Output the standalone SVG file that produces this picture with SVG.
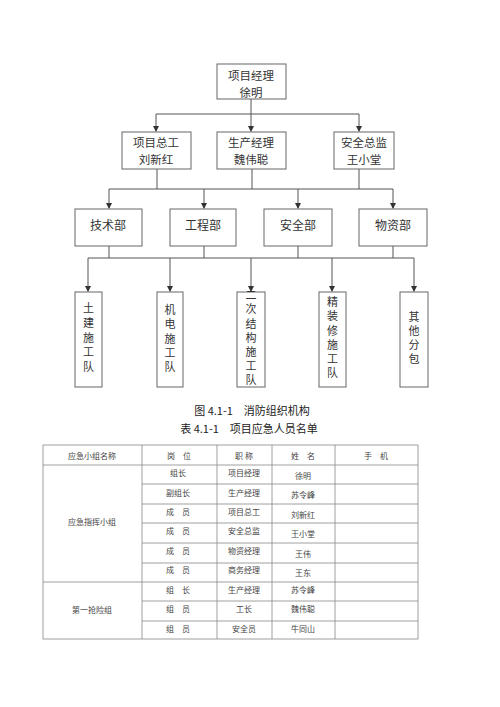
<svg xmlns="http://www.w3.org/2000/svg" width="500" height="707" viewBox="0 0 500 707">
<style>
.box{fill:#fff;stroke:#666;stroke-width:1}
.ln{fill:none;stroke:#555;stroke-width:1}
.t{font-family:"Noto Sans CJK SC","Liberation Serif",serif;fill:#333;text-anchor:middle;dominant-baseline:central;font-weight:400}
.o{font-size:12px}
.o2{font-size:11.5px}
.v{font-family:"Noto Sans CJK SC",sans-serif;fill:#333;font-size:11px;writing-mode:vertical-rl;text-orientation:upright;text-anchor:start}
.c{font-size:11px;fill:#222}
.tb{font-size:8px;fill:#444}
.grid{stroke:#888;stroke-width:0.8;fill:none}
</style>
<rect width="500" height="707" fill="#fff"/>
<g id="connectors">
<path class="ln" d="M251,99 V114"/>
<path class="ln" d="M156,114 H359"/>
<path class="ln" d="M156,114 V131"/>
<path class="ln" d="M251,114 V131"/>
<path class="ln" d="M359,114 V131"/>
<path class="ln" d="M157,169 V189 M252,169 V189 M359,169 V189"/>
<path class="ln" d="M109,189 H393"/>
<path class="ln" d="M109,189 V208 M204,189 V208 M298,189 V208 M393,189 V208"/>
<path class="ln" d="M109,246 V258 M204,246 V258 M298,246 V258 M393,246 V258"/>
<path class="ln" d="M88,258 H414"/>
<path class="ln" d="M88,258 V291 M170,258 V291 M251,258 V291 M332,258 V291 M414,258 V291"/>
<g fill="#333">
<path d="M153,126 L159,126 L156,132 Z"/>
<path d="M248,126 L254,126 L251,132 Z"/>
<path d="M356,126 L362,126 L359,132 Z"/>
<path d="M106,203 L112,203 L109,209 Z"/>
<path d="M201,203 L207,203 L204,209 Z"/>
<path d="M295,203 L301,203 L298,209 Z"/>
<path d="M390,203 L396,203 L393,209 Z"/>
<path d="M85,286 L91,286 L88,292 Z"/>
<path d="M167,286 L173,286 L170,292 Z"/>
<path d="M248,286 L254,286 L251,292 Z"/>
<path d="M329,286 L335,286 L332,292 Z"/>
<path d="M411,286 L417,286 L414,292 Z"/>
</g>
</g>
<g id="pm">
<rect class="box" x="217" y="64" width="69" height="35"/>
<text class="t o2" x="251" y="75">项目经理</text>
<text class="t o2" x="251" y="91.8">徐明</text>
</g>
<g id="chief-eng">
<rect class="box" x="122" y="132" width="69" height="37"/>
<text class="t o2" x="156" y="142.3">项目总工</text>
<text class="t o2" x="156" y="159.1">刘新红</text>
</g>
<g id="prod-mgr">
<rect class="box" x="217" y="132" width="69" height="37"/>
<text class="t o2" x="251" y="142.3">生产经理</text>
<text class="t o2" x="251" y="159.1">魏伟聪</text>
</g>
<g id="safety-dir">
<rect class="box" x="334" y="132" width="60" height="37"/>
<text class="t o2" x="364" y="142.3">安全总监</text>
<text class="t o2" x="364" y="159.1">王小堂</text>
</g>
<g id="tech">
<rect class="box" x="75" y="209" width="67" height="37"/>
<text class="t o" x="108" y="224">技术部</text>
</g>
<g id="eng">
<rect class="box" x="170" y="209" width="66" height="37"/>
<text class="t o" x="203" y="224">工程部</text>
</g>
<g id="safety">
<rect class="box" x="264" y="209" width="68" height="37"/>
<text class="t o" x="298" y="224">安全部</text>
</g>
<g id="material">
<rect class="box" x="359" y="209" width="68" height="37"/>
<text class="t o" x="393" y="224">物资部</text>
</g>
<g id="team1">
<rect class="box" x="75" y="292" width="27" height="95"/>
<text class="v" x="88.5" y="302.5" letter-spacing="3.7">土建施工队</text>
</g>
<g id="team2">
<rect class="box" x="157" y="292" width="26" height="95"/>
<text class="v" x="170" y="304.5" letter-spacing="3.2">机电施工队</text>
</g>
<g id="team3">
<rect class="box" x="237" y="292" width="28" height="95"/>
<text class="v" x="251" y="289.5" letter-spacing="3.2">二次结构施工队</text>
</g>
<g id="team4">
<rect class="box" x="319" y="292" width="27" height="95"/>
<text class="v" x="332.5" y="296.5" letter-spacing="3.2">精装修施工队</text>
</g>
<g id="team5">
<rect class="box" x="400" y="292" width="28" height="95"/>
<text class="v" x="414" y="311.5" letter-spacing="3">其他分包</text>
</g>
<g id="captions">
<text class="t c" x="252" y="410">图 4.1-1　消防组织机构</text>
<text class="t c" x="249" y="428">表 4.1-1　项目应急人员名单</text>
</g>
<g id="table">
<rect class="grid" x="43" y="445" width="375" height="194"/>
<path class="grid" d="M43,465 H418 M142,484 H418 M142,504 H418 M142,523 H418 M142,543 H418 M142,563 H418 M43,582 H418 M142,601 H418 M142,621 H418"/>
<path class="grid" d="M142,445 V639 M217,445 V639 M272,445 V639 M335,445 V639"/>
<g class="t tb">
<text x="92" y="455">应急小组名称</text>
<text x="179" y="455">岗　位</text>
<text x="244" y="455">职 称</text>
<text x="303" y="455">姓　名</text>
<text x="376" y="455">手　机</text>
<text x="92" y="521">应急指挥小组</text>
<text x="92" y="609">第一抢险组</text>
<text x="178" y="472">组长</text>
<text x="178" y="492">副组长</text>
<text x="178" y="511">成　员</text>
<text x="178" y="530">成　员</text>
<text x="178" y="550">成　员</text>
<text x="178" y="569">成　员</text>
<text x="178" y="589">组　长</text>
<text x="178" y="608">组　员</text>
<text x="178" y="628">组　员</text>
<text x="244" y="472">项目经理</text>
<text x="244" y="492">生产经理</text>
<text x="244" y="511">项目总工</text>
<text x="244" y="530">安全总监</text>
<text x="244" y="550">物资经理</text>
<text x="244" y="569">商务经理</text>
<text x="244" y="589">生产经理</text>
<text x="244" y="608">工长</text>
<text x="244" y="628">安全员</text>
<text x="303" y="475">徐明</text>
<text x="303" y="494">苏令峰</text>
<text x="303" y="514">刘新红</text>
<text x="303" y="533">王小堂</text>
<text x="303" y="553">王伟</text>
<text x="303" y="572">王东</text>
<text x="303" y="589">苏令峰</text>
<text x="303" y="608">魏伟聪</text>
<text x="303" y="628">牛同山</text>
</g>
</g>
</svg>
